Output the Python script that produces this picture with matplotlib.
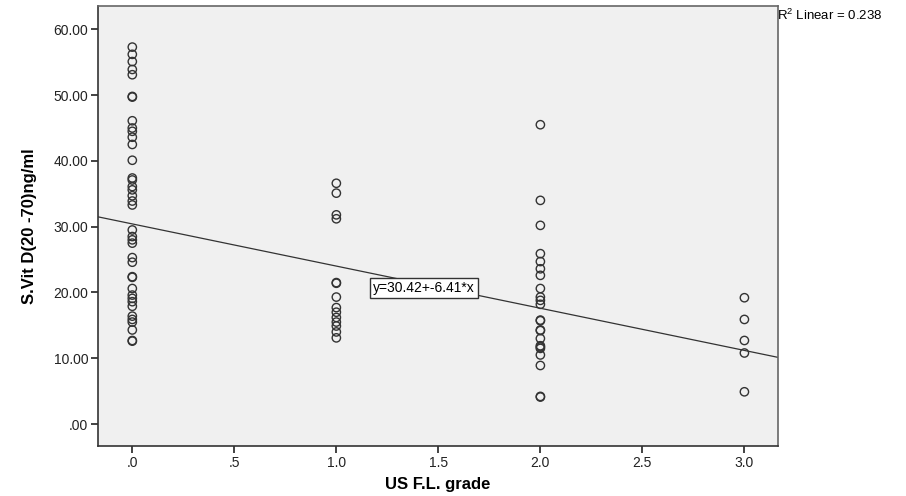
import numpy as np
import matplotlib.pyplot as plt
from matplotlib.ticker import FuncFormatter

# grade 0 .. 3 groups, S.Vit D values
grade0 = [57.3, 56.2, 55.1, 53.9, 53.1, 49.8, 49.7, 46.1, 45.0, 44.5, 43.6, 42.5,
          40.1, 37.4, 37.1, 36.1, 35.6, 34.7, 33.9, 33.3, 29.5, 28.5, 28.0, 27.5,
          25.3, 24.6, 22.4, 22.3, 20.6, 19.6, 19.1, 18.6, 17.9, 16.4, 15.9, 15.5,
          14.3, 12.7, 12.6]
grade1 = [36.6, 35.1, 31.8, 31.2, 21.5, 21.4, 19.3, 17.7, 17.0, 16.2, 15.5, 14.9,
          14.0, 13.1]
grade2 = [45.5, 34.0, 30.2, 25.9, 24.7, 23.6, 22.6, 20.6, 19.3, 18.8, 18.2, 15.8,
          15.7, 14.3, 14.2, 13.0, 11.9, 11.7, 11.5, 10.5, 8.9, 4.2, 4.1]
grade3 = [19.2, 15.9, 12.7, 10.8, 4.9]

intercept = 30.42
slope = -6.41
r2 = 0.238

x = np.concatenate([np.full(len(g), k) for k, g in enumerate([grade0, grade1, grade2, grade3])])
y = np.concatenate([grade0, grade1, grade2, grade3])

plt.rcParams['font.family'] = ['Liberation Sans', 'DejaVu Sans']

fig = plt.figure(figsize=(9.06, 4.96), dpi=100)
ax = fig.add_axes([0.1082, 0.1008, 0.7506, 0.887])
ax.set_facecolor('#f0f0f0')

ax.scatter(x, y, s=36, facecolors='none', edgecolors='#333333', linewidths=1.0, zorder=3)

xlim = (-0.168, 3.165)
xs = np.array(xlim)
ax.plot(xs, intercept + slope * xs, color='#333333', linewidth=0.9, zorder=2)

ax.set_xlim(*xlim)
ax.set_ylim(-3.34, 63.54)
ax.set_xticks(np.arange(0, 3.01, 0.5))
ax.set_yticks(np.arange(0, 60.1, 10))
ax.xaxis.set_major_formatter(FuncFormatter(lambda v, p: ('%.1f' % v).lstrip('0') if v < 1 else '%.1f' % v))
ax.yaxis.set_major_formatter(FuncFormatter(lambda v, p: ('%.2f' % v).lstrip('0') if v < 1 else '%.2f' % v))
ax.tick_params(direction='out', length=5, width=1.2, labelsize=10, colors='#222222', pad=2)
for s in ax.spines.values():
    s.set_color('#666666')
    s.set_linewidth(1.2)
ax.spines['left'].set_color('#333333')
ax.spines['bottom'].set_color('#333333')

ax.set_xlabel('US F.L. grade', fontsize=12, fontweight='bold', labelpad=5)
ax.set_ylabel('S.Vit D(20 -70)ng/ml', fontsize=12, fontweight='bold', labelpad=12,
              family=['Liberation Sans Narrow', 'Liberation Sans', 'DejaVu Sans'])

ax.text(1.18, 20.7, 'y=30.42+-6.41*x', fontsize=10, va='center', ha='left', zorder=4,
        bbox=dict(boxstyle='square,pad=0.2', facecolor='white', edgecolor='#333333', linewidth=1))
ax.text(0.999, 0.995, '$\\mathregular{R^2}$ Linear = ' + str(r2), transform=ax.transAxes,
        fontsize=9.5, va='top', ha='left')

plt.savefig('out.png', dpi=100, facecolor='white')
plt.close('all')
